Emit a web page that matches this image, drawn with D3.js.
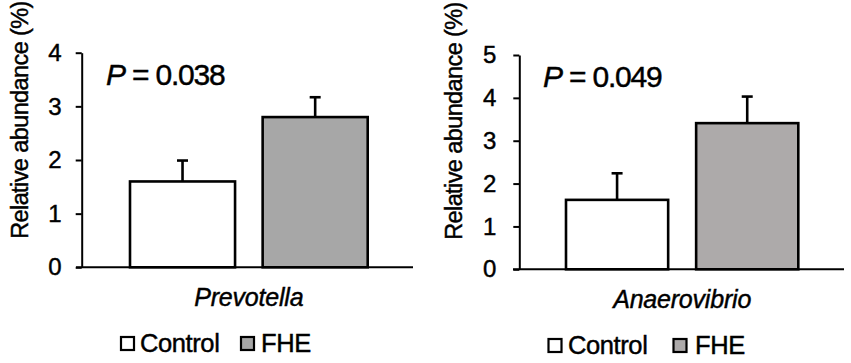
<!DOCTYPE html>
<html>
<head>
<meta charset="utf-8">
<script src="https://cdn.jsdelivr.net/npm/d3@7"></script>
<style>
  html, body { margin: 0; padding: 0; background: #fff; }
  svg { display: block; font-family: Arial, "Liberation Sans", sans-serif; }
  svg text { stroke: #000; stroke-width: 0.45px; fill: #000; }
</style>
</head>
<body>
<svg id="chart" width="851" height="363"></svg>
<script>
// ---- data ----
const categories = ["Prevotella", "Anaerovibrio"];
const groups = ["Control", "FHE"];
const controlValues = [1.60, 1.62];
const controlErrors = [0.39, 0.62];
const fheValues = [2.80, 3.41];
const fheErrors = [0.37, 0.62];
const yMaxes = [4, 5];
const yTicks = [[0, 1, 2, 3, 4], [0, 1, 2, 3, 4, 5]];
const pValues = ["0.038", "0.049"];
const yLabel = "Relative abundance (%)";

// ---- layout ----
const panels = [
  { axisX: 81.7, top: 52.7, bottom: 267.3, lineX0: 76, lineX1: 413, barX0: 130, barX1: 367.7, pad: 0.208,
    fill: "#a7a7a7", labelX: 28, labelY: 120, pX: 106, pY: 85, catY: 306, tickPad: 14,
    legY: 337, legSq: [121, 241], legTx: [140, 261], legBase: 351.5 },
  { axisX: 519.3, top: 55, bottom: 269.3, lineX0: 513, lineX1: 844, barX0: 566, barX1: 798.3, pad: 0.215,
    fill: "#adaaaa", labelX: 462, labelY: 121, pX: 543, pY: 87, catY: 307.5, tickPad: 17,
    legY: 339, legSq: [548.5, 673.5], legTx: [568, 695], legBase: 354 }
];

const svg = d3.select("#chart");

panels.forEach((p, i) => {
  const g = svg.append("g");
  const y = d3.scaleLinear().domain([0, yMaxes[i]]).range([p.bottom, p.top]);
  const x = d3.scaleBand().domain(groups).range([p.barX0, p.barX1]).paddingInner(p.pad).paddingOuter(0);

  const rows = [
    { group: "Control", value: controlValues[i], err: controlErrors[i], fill: "#ffffff" },
    { group: "FHE", value: fheValues[i], err: fheErrors[i], fill: p.fill }
  ];

  // error bars (upper only)
  rows.forEach(d => {
    const cx = x(d.group) + x.bandwidth() / 2;
    g.append("line").attr("x1", cx).attr("x2", cx)
      .attr("y1", y(d.value)).attr("y2", y(d.value + d.err))
      .attr("stroke", "#000").attr("stroke-width", 2.6);
    g.append("line").attr("x1", cx - 5.5).attr("x2", cx + 5.5)
      .attr("y1", y(d.value + d.err)).attr("y2", y(d.value + d.err))
      .attr("stroke", "#000").attr("stroke-width", 2.6);
  });

  // bars
  g.selectAll("rect.bar").data(rows).enter().append("rect")
    .attr("class", "bar")
    .attr("x", d => x(d.group))
    .attr("y", d => y(d.value))
    .attr("width", x.bandwidth())
    .attr("height", d => y(0) - y(d.value))
    .attr("fill", d => d.fill)
    .attr("stroke", "#000")
    .attr("stroke-width", 2.6);

  // y axis
  const yAxis = d3.axisLeft(y).tickValues(yTicks[i]).tickFormat(d3.format("d"))
    .tickSize(6).tickSizeOuter(0).tickPadding(p.tickPad);
  const ya = g.append("g").attr("transform", `translate(${p.axisX},0)`).call(yAxis);
  ya.attr("font-size", null).attr("font-family", null);
  ya.select(".domain").attr("stroke", "#000").attr("stroke-width", 2);
  ya.selectAll(".tick line").attr("stroke", "#000").attr("stroke-width", 2);
  ya.selectAll(".tick text").attr("fill", "#000").style("font-size", "24px")
    .style("font-family", "Arial, 'Liberation Sans', sans-serif");

  // x axis line
  g.append("line").attr("x1", p.lineX0).attr("x2", p.lineX1)
    .attr("y1", y(0)).attr("y2", y(0))
    .attr("stroke", "#000").attr("stroke-width", 2);

  // y label
  g.append("text")
    .attr("transform", `translate(${p.labelX},${p.labelY}) rotate(-90)`)
    .attr("text-anchor", "middle")
    .attr("font-size", 23.5)
    .attr("letter-spacing", -0.6)
    .text(yLabel);

  // P value
  const pt = g.append("text").attr("x", p.pX).attr("y", p.pY)
    .attr("font-size", 30).attr("letter-spacing", -1.2);
  pt.append("tspan").attr("font-style", "italic").text("P");
  pt.append("tspan").text(" = " + pValues[i]);

  // category label
  g.append("text")
    .attr("x", (p.barX0 + p.barX1) / 2)
    .attr("y", p.catY)
    .attr("text-anchor", "middle")
    .attr("font-size", 25)
    .attr("letter-spacing", -0.2)
    .attr("font-style", "italic")
    .text(categories[i]);

  // legend
  rows.forEach((d, k) => {
    g.append("rect")
      .attr("x", p.legSq[k]).attr("y", p.legY)
      .attr("width", 13).attr("height", 13)
      .attr("fill", d.fill).attr("stroke", "#000").attr("stroke-width", 2.2);
    g.append("text")
      .attr("x", p.legTx[k]).attr("y", p.legBase)
      .attr("font-size", 25.5).attr("letter-spacing", -0.4)
      .text(d.group);
  });
});
</script>
</body>
</html>
